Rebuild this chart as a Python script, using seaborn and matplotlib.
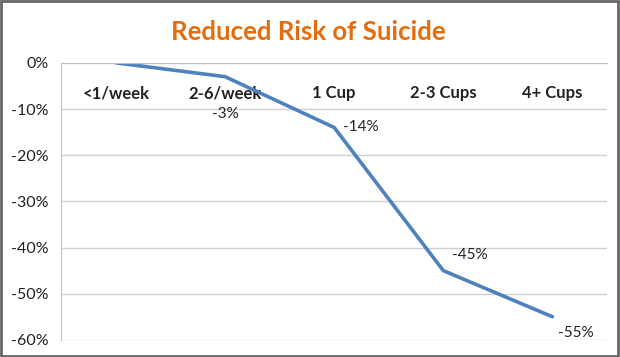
import numpy as np
import pandas as pd
import seaborn as sb
from matplotlib import pyplot as plt
from matplotlib.patches import Rectangle
from matplotlib.ticker import FuncFormatter

# data
categories = ["<1/week", "2-6/week", "1 Cup", "2-3 Cups", "4+ Cups"]
risk_change = [0, -3, -14, -45, -55]
shown_labels = [None, "-3%", "-14%", "-45%", "-55%"]
# where each value label sits relative to its point (points)
label_offsets = [None, (0, -27), (19, 0), (19, 11), (17, -12)]

sb.set_style("white")
plt.rcParams["font.family"] = ["Lato", "DejaVu Sans"]

df = pd.DataFrame({"pos": np.arange(len(categories)), "risk": risk_change})

fig = plt.figure(figsize=(6.2, 3.57), dpi=100)
ax = fig.add_axes([0.099, 0.048, 0.88, 0.776])

sb.lineplot(data=df, x="pos", y="risk", color="#4F81BD", linewidth=2.6, ax=ax)

ax.set_xlim(-0.5, len(categories) - 0.5)
ax.set_ylim(-60, 0)
ax.set_yticks(np.arange(-60, 1, 10))
ax.yaxis.set_major_formatter(FuncFormatter(lambda v, p: f"{v:.0f}%"))
ax.yaxis.grid(True, color="#D0D0D0", linewidth=1)
ax.set_axisbelow(True)

# category axis crosses at 0, labels sit just under it
for s in ["top", "right"]:
    ax.spines[s].set_visible(False)
ax.spines["bottom"].set_position(("data", 0))
ax.spines["bottom"].set_color("#BFBFBF")
ax.spines["left"].set_color("#BFBFBF")
ax.set_xticks(np.arange(len(categories)))
ax.set_xticklabels(categories, fontweight="bold", fontsize=12, color="#222222")
ax.set_xticks(np.arange(-0.5, len(categories)), minor=True)
ax.tick_params(axis="x", which="major", length=0, pad=16)
ax.tick_params(axis="x", which="minor", length=5, direction="in", color="#BFBFBF")
ax.tick_params(axis="y", length=5, color="#BFBFBF", labelsize=11.5, labelcolor="#222222", pad=4)
ax.set_xlabel("")
ax.set_ylabel("")

for i, lab in enumerate(shown_labels):
    if lab is None:
        continue
    ax.annotate(lab, (i, risk_change[i]), xytext=label_offsets[i], textcoords="offset points",
                ha="center", va="center", fontsize=11, color="#222222")

fig.text(0.497, 0.91, "Reduced Risk of Suicide", ha="center", va="center",
         fontsize=18.5, fontweight="bold", color="#E46C0A")

fig.patches.append(Rectangle((0.002, 0.003), 0.994, 0.994, transform=fig.transFigure,
                             fill=False, edgecolor="#666666", linewidth=2))

fig.savefig("out.png", dpi=100)
